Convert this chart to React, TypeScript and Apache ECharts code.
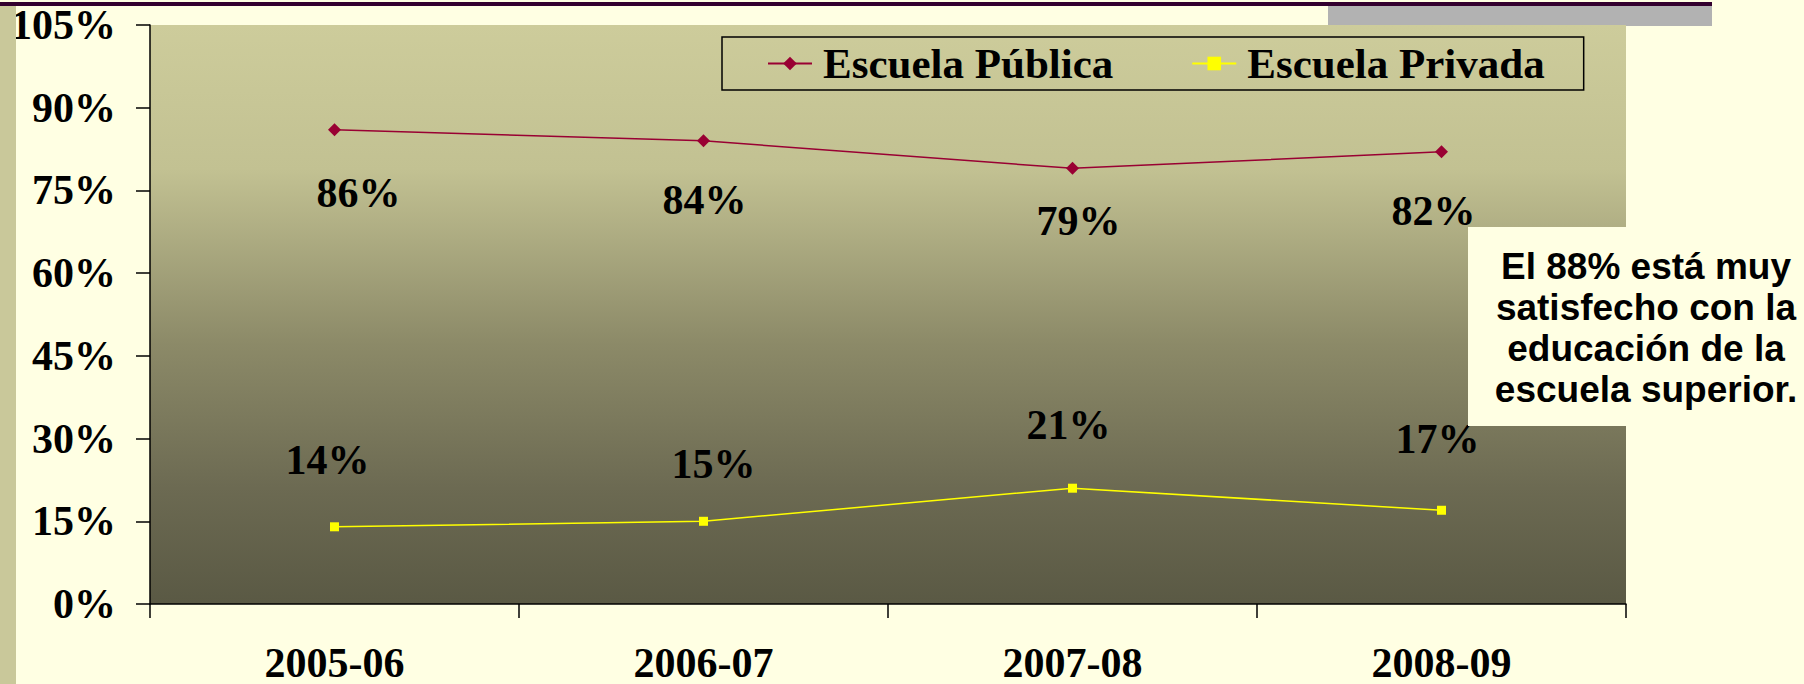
import React, { useEffect, useRef } from "react";
import * as echarts from "echarts";

const categories = ["2005-06", "2006-07", "2007-08", "2008-09"];
const publica = [86, 84, 79, 82];
const privada = [14, 15, 21, 17];
const yTicks = { min: 0, max: 105, interval: 15 };
const seriesNames = ["Escuela Pública", "Escuela Privada"];
const noteLines = ["El 88% está muy", "satisfecho con la", "educación de la", "escuela superior."];

// label placement offsets (px, relative to each point)
const publicaOffsets = [[24, 63], [1, 59], [6, 53], [-8, 59]];
const privadaOffsets = [[-7, -67], [10, -57], [-4, -63], [-4, -71]];

const SERIF = "'Times New Roman', 'Liberation Serif', serif";
const SANS = "Arial, 'Liberation Sans', sans-serif";
const CREAM = "#ffffe3";

export default function App() {
  const ref = useRef<HTMLDivElement>(null);
  useEffect(() => {
    if (!ref.current) return;
    const chart = echarts.init(ref.current, undefined, { renderer: "svg" });
    const labelBase = {
      show: true,
      position: "inside",
      formatter: "{c}%",
      fontFamily: SERIF,
      fontWeight: "bold",
      fontSize: 42,
      color: "#000",
      align: "center",
      verticalAlign: "middle",
    };
    chart.setOption({
      animation: false,
      backgroundColor: CREAM,
      grid: {
        left: 150,
        top: 25,
        right: 178,
        bottom: 76,
        show: true,
        borderWidth: 0,
        backgroundColor: {
          type: "linear",
          x: 0,
          y: 0,
          x2: 0,
          y2: 1,
          colorStops: [
            { offset: 0, color: "#cdcc9b" },
            { offset: 0.25, color: "#c2c192" },
            { offset: 0.55, color: "#8c8a68" },
            { offset: 0.8, color: "#6c6a52" },
            { offset: 1, color: "#5a5944" },
          ],
        },
      },
      legend: {
        left: 722,
        top: 37,
        padding: [5, 39, 5, 45],
        borderColor: "#000",
        borderWidth: 1.5,
        itemGap: 78,
        itemWidth: 44,
        itemHeight: 17,
        textStyle: {
          fontFamily: SERIF,
          fontWeight: "bold",
          fontSize: 43,
          color: "#000",
          lineHeight: 42,
          padding: [0, 0, 0, 6],
        },
        data: seriesNames,
      },
      xAxis: {
        type: "category",
        data: categories,
        boundaryGap: true,
        axisLine: { show: true, lineStyle: { color: "#000", width: 1.5 } },
        axisTick: { show: true, length: 14, inside: false, lineStyle: { color: "#000", width: 1.5 } },
        axisLabel: {
          margin: 38,
          fontFamily: SERIF,
          fontWeight: "bold",
          fontSize: 42,
          lineHeight: 42,
          color: "#000",
        },
        splitLine: { show: false },
      },
      yAxis: {
        type: "value",
        min: yTicks.min,
        max: yTicks.max,
        interval: yTicks.interval,
        axisLine: { show: true, lineStyle: { color: "#000", width: 1.5 } },
        axisTick: { show: true, length: 14, inside: false, lineStyle: { color: "#000", width: 1.5 } },
        axisLabel: {
          margin: 34,
          formatter: "{value}%",
          fontFamily: SERIF,
          fontWeight: "bold",
          fontSize: 42,
          color: "#000",
        },
        splitLine: { show: false },
      },
      series: [
        {
          name: seriesNames[0],
          type: "line",
          data: publica.map((v, i) => ({ value: v, label: { ...labelBase, offset: publicaOffsets[i] } })),
          symbol: "diamond",
          symbolSize: 13,
          itemStyle: { color: "#990033" },
          lineStyle: { color: "#990033", width: 1.5 },
          label: labelBase,
          z: 3,
        },
        {
          name: seriesNames[1],
          type: "line",
          data: privada.map((v, i) => ({ value: v, label: { ...labelBase, offset: privadaOffsets[i] } })),
          symbol: "rect",
          symbolSize: 9,
          itemStyle: { color: "#ffff00" },
          lineStyle: { color: "#ffff00", width: 1.5 },
          label: labelBase,
          z: 3,
        },
      ],
      graphic: [
        { type: "rect", z: -1, shape: { x: 1328, y: 6, width: 384, height: 20 }, style: { fill: "#b2b2b2" } },
        { type: "rect", z: 10, shape: { x: 0, y: 2, width: 1712, height: 4 }, style: { fill: "#33002e" } },
        { type: "rect", z: 10, shape: { x: 0, y: 6, width: 16, height: 678 }, style: { fill: "#c9c89a" } },
        { type: "rect", z: 20, shape: { x: 1468, y: 227, width: 336, height: 199 }, style: { fill: CREAM } },
        {
          type: "text",
          z: 21,
          x: 1646,
          y: 328,
          style: {
            text: noteLines.join("\n"),
            fontFamily: SANS,
            fontWeight: "bold",
            fontSize: 37,
            lineHeight: 41,
            fill: "#000",
            align: "center",
            verticalAlign: "middle",
          },
        },
      ],
    });
    return () => chart.dispose();
  }, []);
  return (
    <div
      ref={ref}
      style={{ position: "fixed", left: 0, top: 0, width: 1804, height: 684 }}
    />
  );
}
